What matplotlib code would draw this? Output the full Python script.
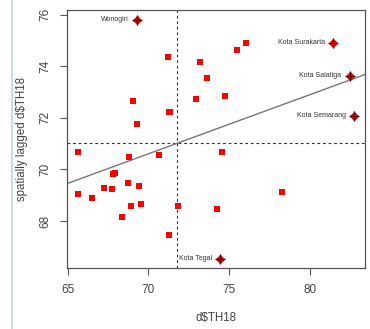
import numpy as np
import matplotlib
matplotlib.use("Agg")
import matplotlib.pyplot as plt

plt.rcParams["font.family"] = ["Liberation Sans", "DejaVu Sans"]

# observed values (d$TH18) and their spatial lags
th18 = [71.23, 69.06, 69.27, 71.28, 71.36, 65.62, 68.80, 70.67,
        76.08, 75.53, 73.19, 73.61, 72.93, 74.78, 74.57,
        65.62, 66.49, 67.27, 67.76, 67.82, 67.93, 68.75, 69.41,
        68.92, 69.54, 68.36, 71.27, 71.85, 74.23, 78.31]
lag_th18 = [74.36, 72.67, 71.76, 72.21, 72.22, 70.69, 70.47, 70.56,
            74.92, 74.64, 74.15, 73.54, 72.73, 72.83, 70.69,
            69.04, 68.91, 69.29, 69.23, 69.83, 69.85, 69.46, 69.36,
            68.58, 68.65, 68.14, 67.46, 68.60, 68.45, 69.14]

# influential observations
infl_names = ["Wonogiri", "Kota Surakarta", "Kota Salatiga", "Kota Semarang", "Kota Tegal"]
infl_x = [69.33, 81.47, 82.48, 82.75, 74.45]
infl_y = [75.81, 74.92, 73.63, 72.08, 66.54]

x_ticks = [65, 70, 75, 80]
y_ticks = [68, 70, 72, 74, 76]


def main():
    x_all = np.array(th18 + infl_x)
    y_all = np.array(lag_th18 + infl_y)

    fig = plt.figure(figsize=(3.7, 3.29), dpi=100)
    ax = fig.add_axes([0.180, 0.1845, 0.8065, 0.785])

    ax.scatter(th18, lag_th18, marker="s", s=13, color="#ff0000", linewidths=0, zorder=3)
    ax.scatter(infl_x, infl_y, marker="D", s=24, color="#ee0000", linewidths=0, zorder=3)
    ax.scatter(infl_x, infl_y, marker="+", s=48, color="#550000", linewidths=0.9, zorder=4)
    for name, x, y in zip(infl_names, infl_x, infl_y):
        ax.annotate(name, (x, y), xytext=(-6, 0), textcoords="offset points",
                    ha="right", va="center", fontsize=5, color="#333333")

    # regression line and mean lines
    xm, ym = 71.81, 71.02
    slope = 0.229
    xs = np.array([64.0, 84.5])
    ax.plot(xs, ym + slope * (xs - xm), color="#777777", lw=1.0, zorder=2)
    ax.axvline(xm, color="#333333", lw=0.8, ls=(0, (2.5, 2.5)), zorder=1)
    ax.axhline(ym, color="#333333", lw=0.8, ls=(0, (2.5, 2.5)), zorder=1)

    # R-style 4% padding
    xr = x_all.max() - x_all.min()
    yr = y_all.max() - y_all.min()
    ax.set_xlim(x_all.min() - 0.04 * xr, x_all.max() + 0.04 * xr)
    ax.set_ylim(y_all.min() - 0.04 * yr, y_all.max() + 0.04 * yr)

    ax.set_xticks(x_ticks)
    ax.set_yticks(y_ticks)
    ax.set_yticklabels([str(v) for v in y_ticks], rotation=90, va="center")
    ax.tick_params(direction="out", length=5, width=0.8, color="#555555",
                   labelsize=8.5, labelcolor="#444444", pad=6)
    for sp in ax.spines.values():
        sp.set_color("#555555")
        sp.set_linewidth(0.9)

    ax.set_xlabel("d$TH18", fontsize=8.3, color="#444444", labelpad=12)
    ax.set_ylabel("spatially lagged d$TH18", fontsize=8.3, color="#444444", labelpad=8)

    # thin blue rule at the left of the page
    fig.add_artist(plt.Line2D([0.033, 0.033], [0.0, 1.0], color="#bcd4ea", lw=1.2))

    fig.savefig("out.png", dpi=100)


if __name__ == "__main__":
    main()
